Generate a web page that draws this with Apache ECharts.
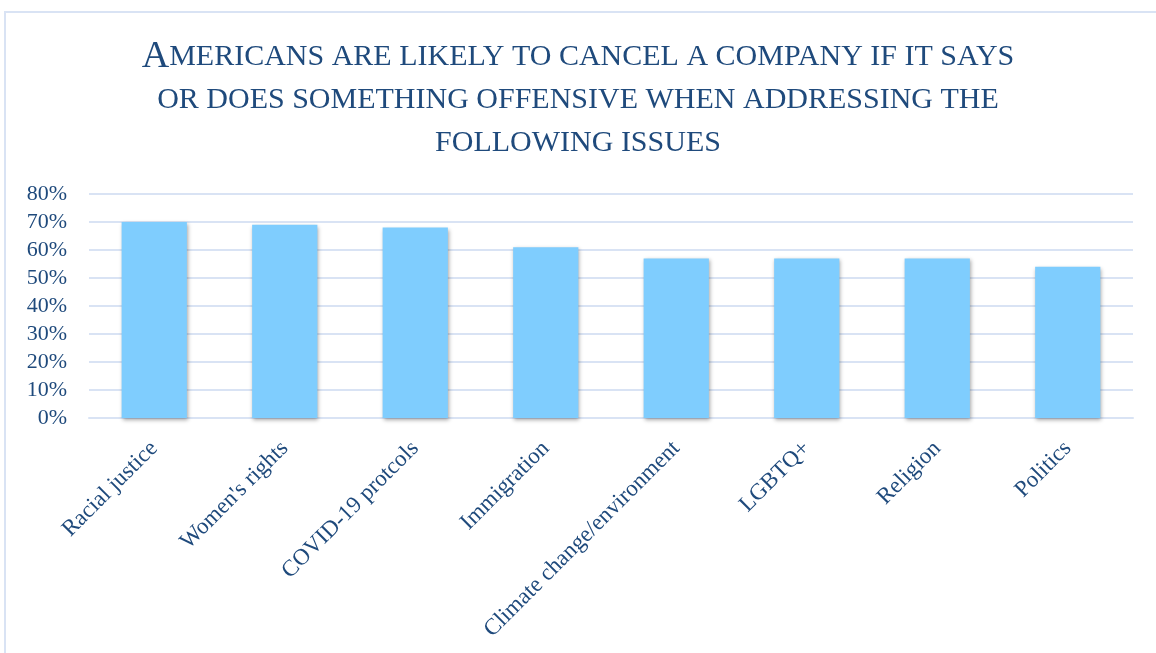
<!DOCTYPE html>
<html>
<head>
<meta charset="utf-8">
<script src="https://cdn.jsdelivr.net/npm/echarts@6/dist/echarts.min.js"></script>
<style>
  html, body { margin: 0; padding: 0; background: #fff; }
  #chart { width: 1156px; height: 653px; }
</style>
</head>
<body>
<div id="chart"></div>
<script>
var issues = ['Racial justice', "Women's rights", 'COVID-19 protcols', 'Immigration',
  'Climate change/environment', 'LGBTQ+', 'Religion', 'Politics'];
var shares = [70, 69, 68, 61, 57, 57, 57, 54];
var titleLines = [
  'MERICANS ARE LIKELY TO CANCEL A COMPANY IF IT SAYS',
  'OR DOES SOMETHING OFFENSIVE WHEN ADDRESSING THE',
  'FOLLOWING ISSUES'
];

var textColor = '#1f4a7c';
var lineColor = '#d9e3f4';

var myChart = echarts.init(document.getElementById('chart'));

// small caps: first capital bigger, rest in smaller capitals
var option = {
  backgroundColor: '#fff',
  animation: false,
  title: {
    text: '{a|A}{b|' + titleLines[0] + '}\n{b|' + titleLines[1] + '}\n{b|' + titleLines[2] + '}',
    left: 'center',
    top: 31,
    textStyle: {
      fontFamily: 'Liberation Serif',
      fontWeight: 'normal',
      color: textColor,
      lineHeight: 43,
      rich: {
        a: { fontSize: 38, fontFamily: 'Liberation Serif', color: textColor, lineHeight: 43 },
        b: { fontSize: 30, fontFamily: 'Liberation Serif', color: textColor, lineHeight: 43 }
      }
    }
  },
  graphic: [{
    type: 'rect',
    shape: { x: 5, y: 12, width: 1170, height: 680 },
    style: { fill: null, stroke: lineColor, lineWidth: 2 },
    silent: true
  }],
  grid: { left: 89, right: 23, top: 194, bottom: 235 },
  xAxis: {
    type: 'category',
    data: issues,
    axisLine: { lineStyle: { color: lineColor, width: 2 } },
    axisTick: { show: false },
    axisLabel: {
      rotate: 45,
      interval: 0,
      margin: 27,
      color: textColor,
      fontFamily: 'Liberation Serif',
      fontSize: 23
    }
  },
  yAxis: {
    type: 'value',
    min: 0,
    max: 80,
    interval: 10,
    axisLine: { show: false },
    axisTick: { show: false },
    splitLine: { lineStyle: { color: lineColor, width: 2 } },
    axisLabel: {
      formatter: '{value}%',
      margin: 22,
      color: textColor,
      fontFamily: 'Liberation Serif',
      fontSize: 22
    }
  },
  series: [{
    type: 'bar',
    data: shares,
    barWidth: '50%',
    itemStyle: {
      color: '#7fcdfe',
      shadowColor: 'rgba(0,0,0,0.35)',
      shadowBlur: 4,
      shadowOffsetX: 1,
      shadowOffsetY: 2
    }
  }]
};

myChart.setOption(option);
window.addEventListener('resize', function () {
  myChart.resize();
});
</script>
</body>
</html>
